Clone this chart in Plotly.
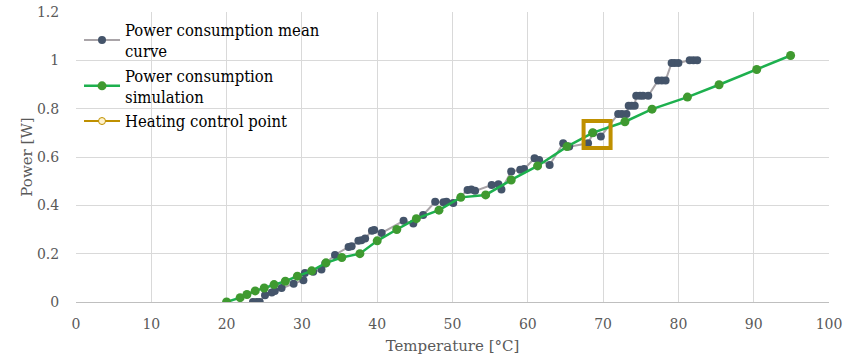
import plotly.graph_objects as go

# Power consumption mean curve (measured)
mean_temp = [23.5, 24.0, 24.4, 25.1, 26.0, 26.4, 27.3, 28.9, 30.2, 30.4, 31.5, 32.6,
             33.1, 34.4, 36.2, 36.6, 37.5, 37.9, 38.4, 39.3, 39.6, 40.6, 43.5, 44.8,
             46.1, 47.7, 48.8, 49.2, 50.1, 52.0, 52.5, 53.0, 55.2, 56.1, 56.5, 57.8,
             59.0, 59.5, 60.9, 61.5, 62.9, 64.7, 65.5, 68.0, 68.7, 69.7, 72.0, 72.5,
             73.1, 73.4, 73.8, 74.2, 74.4, 74.9, 75.3, 76.0, 77.3, 77.8, 78.3, 79.1,
             79.5, 80.0, 81.5, 82.0, 82.5]
mean_power = [0.0, 0.0, 0.0, 0.028, 0.039, 0.046, 0.058, 0.076, 0.09, 0.12, 0.125, 0.134,
              0.159, 0.195, 0.228, 0.231, 0.253, 0.256, 0.263, 0.295, 0.298, 0.286, 0.336, 0.325,
              0.36, 0.415, 0.413, 0.415, 0.41, 0.463, 0.466, 0.46, 0.484, 0.487, 0.466, 0.54,
              0.547, 0.55, 0.595, 0.588, 0.567, 0.657, 0.643, 0.657, 0.70, 0.685, 0.778, 0.778,
              0.778, 0.812, 0.812, 0.812, 0.853, 0.853, 0.853, 0.853, 0.917, 0.917, 0.917, 0.989,
              0.989, 0.989, 1.0, 1.0, 1.0]

# Power consumption simulation
sim_temp = [20.0, 21.8, 22.7, 23.8, 25.0, 26.3, 27.8, 29.4, 31.3, 33.2, 35.3, 37.7,
            40.0, 42.6, 45.2, 48.2, 51.1, 54.4, 57.8, 61.3, 65.2, 68.6, 72.9, 76.5,
            81.2, 85.4, 90.4, 94.9]
sim_power = [0.0, 0.018, 0.031, 0.046, 0.058, 0.072, 0.086, 0.107, 0.129, 0.162, 0.184, 0.2,
             0.253, 0.30, 0.345, 0.38, 0.433, 0.443, 0.505, 0.563, 0.643, 0.70, 0.746, 0.798,
             0.848, 0.899, 0.962, 1.02]

# Heating control point
ctrl_temp = [69.2]
ctrl_power = [0.693]

x_ticks = [0, 10, 20, 30, 40, 50, 60, 70, 80, 90, 100]
y_ticks = [0, 0.2, 0.4, 0.6, 0.8, 1.0, 1.2]

FONT = "DejaVu Serif"
LEGEND_FONT = "DejaVu Serif Condensed, DejaVu Serif"
GOLD = "#BF9000"

fig = go.Figure()
fig.add_trace(go.Scatter(
    x=mean_temp, y=mean_power, mode="lines+markers",
    name="Power consumption mean<br>curve",
    line=dict(color="#A9A4A8", width=2),
    marker=dict(color="#44546A", size=8),
))
fig.add_trace(go.Scatter(
    x=sim_temp, y=sim_power, mode="lines+markers",
    name="Power consumption<br>simulation",
    line=dict(color="#1DB04E", width=2.5),
    marker=dict(color="#3F9A30", size=9),
))
fig.add_trace(go.Scatter(
    x=ctrl_temp, y=ctrl_power, mode="markers",
    name="Heating control point", showlegend=False,
    marker=dict(symbol="square-open", size=27, color=GOLD, line=dict(width=4, color=GOLD)),
))
# legend entry for the control point (no data drawn)
fig.add_trace(go.Scatter(
    x=[None], y=[None], mode="lines+markers",
    name="Heating control point",
    line=dict(color=GOLD, width=2),
    marker=dict(symbol="circle", size=7, color="#FFF2CC", line=dict(width=1, color=GOLD)),
))

fig.update_layout(
    width=850, height=363,
    margin=dict(l=76, r=21, t=12, b=61),
    plot_bgcolor="white", paper_bgcolor="white",
    font=dict(family=FONT, size=14, color="#595959"),
    showlegend=True,
    legend=dict(x=0.004, y=1.0, xanchor="left", yanchor="top",
                bgcolor="rgba(0,0,0,0)", font=dict(family=LEGEND_FONT, size=16.5, color="#000000"),
                tracegroupgap=0, itemwidth=36),
    xaxis=dict(range=[0, 100], tickvals=x_ticks, showgrid=True, gridcolor="#D9D9D9",
               gridwidth=1, zeroline=False, showline=True, linecolor="#BFBFBF", linewidth=1,
               automargin=False, ticks="outside", ticklen=9, tickcolor="rgba(0,0,0,0)",
               tickfont=dict(size=14, color="#595959"),
               title=dict(text="Temperature [°C]", font=dict(size=15, color="#595959"), standoff=9)),
    yaxis=dict(range=[0, 1.2], tickvals=y_ticks, showgrid=True, gridcolor="#D9D9D9",
               gridwidth=1, zeroline=False, showline=False,
               automargin=False, ticks="outside", ticklen=13, tickcolor="rgba(0,0,0,0)",
               tickfont=dict(size=14, color="#595959"),
               title=dict(text="Power [W]", font=dict(size=15, color="#595959"), standoff=0)),
)

# remove the default 8px page margin so the figure fills the window exactly
fig.write_html("out.html", config={"displayModeBar": False},
               post_script="document.body.style.margin='0px';")
